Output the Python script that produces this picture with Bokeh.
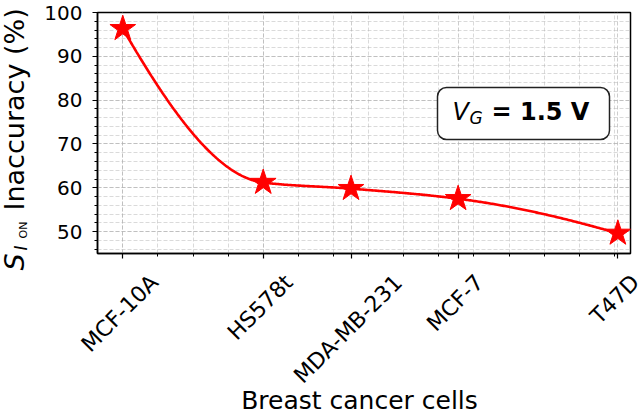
import numpy as np
from bokeh.plotting import figure
from bokeh.layouts import row, column
from bokeh.models import Range1d, FixedTicker, Label, BoxAnnotation
from bokeh.embed import file_html
from bokeh.resources import INLINE

# ---------------- data ----------------
cells = ["MCF-10A", "HS578t", "MDA-MB-231", "MCF-7", "T47D"]
x_pos = [0.0, 4.0, 6.5, 9.55, 14.1]
inaccuracy = [96.3, 61.2, 59.8, 57.5, 49.6]
y_ticks = [50, 60, 70, 80, 90, 100]
y_minor = list(range(46, 101, 2))
x_minor = list(range(0, 15))
x_title = "Breast cancer cells"
y_title_main = "Inaccuracy (%)"

# ---------------- layout constants ----------------
W, H = 643, 416
TW = 40                             # width of the strip holding the y title
FL, FT, FR, FB = 97, 12, 630, 253   # frame edges in page pixels
PB = 18                             # room under the frame for ticks
PH = FB + PB                        # height of the top row
X0, X1 = -0.72, 14.46
PPU = (FR - FL) / (X1 - X0)
FONT = "DejaVu Sans"
RED = "#ff0000"


def sx(cx):
    return cx - FL


def sy(cy):
    return FB - cy


def mid(baseline, size):
    # page row of the middle of capital letters for a given baseline row
    return baseline - 0.36 * size


def pchip(x, y, xs):
    x = np.asarray(x, float)
    y = np.asarray(y, float)
    h = np.diff(x)
    dl = np.diff(y) / h
    n = len(x)
    d = np.zeros(n)
    for k in range(1, n - 1):
        if dl[k - 1] * dl[k] > 0:
            w1 = 2 * h[k] + h[k - 1]
            w2 = h[k] + 2 * h[k - 1]
            d[k] = (w1 + w2) / (w1 / dl[k - 1] + w2 / dl[k])

    def edge(h0, h1, m0, m1):
        e = ((2 * h0 + h1) * m0 - h0 * m1) / (h0 + h1)
        if np.sign(e) != np.sign(m0):
            return 0.0
        if np.sign(m0) != np.sign(m1) and abs(e) > 3 * abs(m0):
            return 3 * m0
        return e

    d[0] = edge(h[0], h[1], dl[0], dl[1])
    d[-1] = edge(h[-1], h[-2], dl[-1], dl[-2])
    idx = np.clip(np.searchsorted(x, xs, side="right") - 1, 0, n - 2)
    s = (xs - x[idx]) / h[idx]
    h00 = 2 * s ** 3 - 3 * s ** 2 + 1
    h10 = s ** 3 - 2 * s ** 2 + s
    h01 = -2 * s ** 3 + 3 * s ** 2
    h11 = s ** 3 - s ** 2
    return (h00 * y[idx] + h10 * h[idx] * d[idx]
            + h01 * y[idx + 1] + h11 * h[idx] * d[idx + 1])


DEJAVU_W = {"M": 1767, "C": 1430, "F": 1178, "-": 739, "A": 1401, "H": 1540,
            "S": 1300, "t": 803, "D": 1577, "B": 1405, "T": 1251}


def text_width(s, size):
    return sum(DEJAVU_W.get(ch, 1303) for ch in s) / 2048 * size


def bare(fig):
    fig.outline_line_color = None
    fig.grid.visible = False
    fig.background_fill_color = "white"
    fig.border_fill_color = "white"


# ---------------- main plot ----------------
p = figure(width=W - TW, height=PH, output_backend="svg", toolbar_location=None,
           x_range=Range1d(X0, X1), y_range=Range1d(45, 100),
           min_border_left=FL - TW, min_border_top=FT,
           min_border_right=W - FR, min_border_bottom=PB)
p.background_fill_color = "white"
p.border_fill_color = "white"
p.outline_line_color = "black"
p.outline_line_width = 1.5
p.outline_line_alpha = 1

p.xaxis.ticker = FixedTicker(ticks=x_pos, minor_ticks=x_minor)
p.yaxis.ticker = FixedTicker(ticks=y_ticks, minor_ticks=y_minor)
p.xaxis.major_label_overrides = {v: "" for v in x_pos}
p.xaxis.major_label_text_font_size = "1px"
p.xaxis.major_label_standoff = 0
for ax in (p.xaxis[0], p.yaxis[0]):
    ax.axis_line_color = "black"
    ax.axis_line_width = 1.5
    ax.major_tick_in = 0
    ax.major_tick_out = 5
    ax.minor_tick_in = 0
    ax.minor_tick_out = 3
    ax.major_tick_line_width = 1.2
    ax.minor_tick_line_width = 1
    ax.major_label_text_font = FONT
    ax.major_label_text_color = "black"
p.yaxis.major_label_text_font_size = "20px"
p.yaxis.major_label_standoff = 10

for g in (p.xgrid[0], p.ygrid[0]):
    g.grid_line_color = "#b0b0b0"
    g.grid_line_dash = "4 2"
    g.grid_line_width = 0.8
    g.grid_line_alpha = 0.8
    g.minor_grid_line_color = "#b0b0b0"
    g.minor_grid_line_dash = "4 2"
    g.minor_grid_line_width = 0.8
    g.minor_grid_line_alpha = 0.6

# smooth monotone curve through the points
xs = np.linspace(x_pos[0], x_pos[-1], 400)
ys = pchip(x_pos, inaccuracy, xs)
p.line(xs, ys, line_color=RED, line_width=2.6)
p.scatter(x_pos, inaccuracy, marker="star", size=27, fill_color=RED,
          line_color=RED, line_width=1)

# annotation box: V_G = 1.5 V
p.add_layout(BoxAnnotation(left=sx(437), right=sx(609), top=sy(87), bottom=sy(139),
                           left_units="screen", right_units="screen",
                           top_units="screen", bottom_units="screen",
                           fill_color="white", fill_alpha=1,
                           line_color="#222222", line_width=1.5, line_alpha=1,
                           border_radius=9, level="annotation"))


def box_text(text, cx, baseline, size, style):
    p.add_layout(Label(x=sx(cx), y=sy(mid(baseline, size)), x_units="screen",
                       y_units="screen", text=text, text_align="left",
                       text_baseline="middle", text_font=FONT,
                       text_font_style=style, text_font_size=f"{size}px",
                       text_color="black"))


box_text("V", 452, 120, 24, "italic")
box_text("G", 469, 124, 17, "italic")
box_text("= 1.5 V", 491, 120, 24, "bold")

# ---------------- y title strip (left of the plot) ----------------
yt = figure(width=TW, height=PH, output_backend="svg", toolbar_location=None,
            x_range=Range1d(0, TW), y_range=Range1d(-PH, 0),
            min_border=0, x_axis_location=None, y_axis_location=None)
bare(yt)
ang = np.pi / 2


def ylabel_piece(text, cx, cy, size, style="normal"):
    # cx is the middle of the rotated line, cy the page row where text starts
    yt.add_layout(Label(x=cx, y=-cy, text=text, angle=ang, text_align="left",
                        text_baseline="middle", text_font=FONT,
                        text_font_style=style, text_font_size=size,
                        text_color="black"))


ylabel_piece("S", 14, 270, "27px", "italic")
ylabel_piece("I", 20.5, 250, "17px", "italic")
ylabel_piece("ON", 23, 238, "11px")
ylabel_piece(y_title_main, 14, 210, "27px")

# ---------------- strip under everything: category names + x title ----------------
SH = H - PH
xb = figure(width=W, height=SH, output_backend="svg", toolbar_location=None,
            x_range=Range1d(X0 - FL / PPU, X1 + (W - FR) / PPU),
            y_range=Range1d(-H, -PH),
            min_border=0, x_axis_location=None, y_axis_location=None)
bare(xb)

LBL = 22
for name, xv in zip(cells, x_pos):
    L = text_width(name, LBL)
    cy = 269 + (L + 1.164 * LBL) * 0.3535      # centre of the rotated box
    xb.add_layout(Label(x=xv, y=-cy, x_offset=-3, text=name, angle=np.pi / 4,
                        text_align="center", text_baseline="middle",
                        text_font=FONT, text_font_size=f"{LBL}px",
                        text_color="black"))
xb.add_layout(Label(x=X0 + (359 - FL) / PPU, y=-mid(409, 25), text=x_title,
                    text_align="center", text_baseline="middle",
                    text_font=FONT, text_font_size="25px", text_color="black"))

layout = column(row(column(yt), p), xb)
open("out.html", "w").write(file_html(layout, INLINE))
